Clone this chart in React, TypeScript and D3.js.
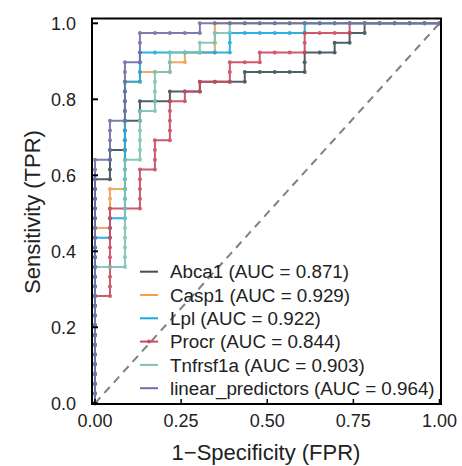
import React, { useRef, useEffect } from 'react';
import * as d3 from 'd3';

const nNeg = 23;
const nPos = 39;

// ROC steps: [false positives so far, true positives reached there]
const abca1Steps = [[0, 23], [1, 26], [2, 29], [3, 31], [5, 32], [7, 33], [10, 34], [14, 36], [16, 37], [17, 38], [18, 39]];
const casp1Steps = [[0, 18], [1, 22], [2, 33], [3, 34], [5, 35], [6, 36], [8, 39]];
const lplSteps = [[0, 17], [1, 19], [2, 33], [3, 36], [9, 38], [14, 39]];
const procrSteps = [[0, 11], [1, 20], [3, 24], [4, 27], [5, 31], [6, 32], [7, 33], [9, 35], [11, 36], [14, 38], [17, 39]];
const tnfrsf1aSteps = [[0, 14], [2, 25], [3, 30], [4, 34], [5, 36], [7, 37], [8, 38], [9, 39]];
const linearSteps = [[0, 25], [1, 29], [2, 35], [3, 38], [7, 39]];

const seriesNames = ['Abca1', 'Casp1', 'Lpl', 'Procr', 'Tnfrsf1a', 'linear_predictors'];
const aucValues = ['0.871', '0.929', '0.922', '0.844', '0.903', '0.964'];
const seriesSteps = [abca1Steps, casp1Steps, lplSteps, procrSteps, tnfrsf1aSteps, linearSteps];
const colors = ['#3e4f57', '#f0a04b', '#1ba7e0', '#c94a5e', '#7cc3b3', '#6e6fa6'];

const xTicks = [0, 0.25, 0.5, 0.75, 1];
const yTicks = [0, 0.2, 0.4, 0.6, 0.8, 1];

const W = 462;
const H = 466;
const font = '"Liberation Sans", Arial, sans-serif';

// walk the ranked samples: one point per sample
function rocPoints(steps: number[][]) {
  const pts: [number, number][] = [[0, 0]];
  let fp = 0;
  let tp = 0;
  steps.forEach(([f, t]) => {
    while (fp < f) { fp++; pts.push([fp / nNeg, tp / nPos]); }
    while (tp < t) { tp++; pts.push([fp / nNeg, tp / nPos]); }
  });
  while (fp < nNeg) { fp++; pts.push([fp / nNeg, tp / nPos]); }
  return pts;
}

function App() {
  const svgRef = useRef<SVGSVGElement>(null);

  useEffect(() => {
    const svg = d3.select(svgRef.current);
    svg.selectAll('*').remove();

    const x = d3.scaleLinear().domain([0, 1]).range([95, 439.5]);
    const y = d3.scaleLinear().domain([0, 1]).range([403.3, 23.3]);

    const frame = { left: 92, right: 441, top: 18.5, bottom: 404 };

    // diagonal reference
    svg.append('line')
      .attr('x1', x(0)).attr('y1', y(0))
      .attr('x2', x(1)).attr('y2', y(1))
      .attr('stroke', '#808080')
      .attr('stroke-width', 2)
      .attr('stroke-dasharray', '8,6');

    const line = d3.line<[number, number]>()
      .x(d => x(d[0]))
      .y(d => y(d[1]));

    seriesSteps.forEach((steps, i) => {
      const pts = rocPoints(steps);
      const g = svg.append('g').attr('opacity', 0.9);
      g.append('path')
        .attr('d', line(pts))
        .attr('fill', 'none')
        .attr('stroke', colors[i])
        .attr('stroke-width', 2);
      g.selectAll('circle')
        .data(pts)
        .join('circle')
        .attr('cx', d => x(d[0]))
        .attr('cy', d => y(d[1]))
        .attr('r', 2)
        .attr('fill', colors[i]);
    });

    // frame
    svg.append('rect')
      .attr('x', frame.left).attr('y', frame.top)
      .attr('width', frame.right - frame.left)
      .attr('height', frame.bottom - frame.top)
      .attr('fill', 'none')
      .attr('stroke', '#000')
      .attr('stroke-width', 2);

    // ticks (inside)
    svg.selectAll('.ytick')
      .data(yTicks)
      .join('line')
      .attr('class', 'ytick')
      .attr('x1', frame.left).attr('x2', frame.left + 6)
      .attr('y1', d => y(d)).attr('y2', d => y(d))
      .attr('stroke', '#000').attr('stroke-width', 2);
    svg.selectAll('.xtick')
      .data(xTicks)
      .join('line')
      .attr('class', 'xtick')
      .attr('x1', d => x(d)).attr('x2', d => x(d))
      .attr('y1', frame.bottom).attr('y2', frame.bottom - 5)
      .attr('stroke', '#000').attr('stroke-width', 1.5);

    svg.selectAll('.ylab')
      .data(yTicks)
      .join('text')
      .attr('class', 'ylab')
      .attr('x', 76)
      .attr('y', d => y(d) + 6.5)
      .attr('text-anchor', 'end')
      .attr('font-family', font)
      .attr('font-size', 18)
      .attr('fill', '#222')
      .text(d => d.toFixed(1));
    svg.selectAll('.xlab')
      .data(xTicks)
      .join('text')
      .attr('class', 'xlab')
      .attr('x', d => x(d))
      .attr('y', 427)
      .attr('text-anchor', 'middle')
      .attr('font-family', font)
      .attr('font-size', 18)
      .attr('fill', '#222')
      .text(d => d.toFixed(2));

    svg.append('text')
      .attr('x', 266)
      .attr('y', 460)
      .attr('text-anchor', 'middle')
      .attr('font-family', font)
      .attr('font-size', 22)
      .attr('fill', '#222')
      .text('1\u2212Specificity (FPR)');
    svg.append('text')
      .attr('transform', 'translate(40,212) rotate(-90)')
      .attr('text-anchor', 'middle')
      .attr('font-family', font)
      .attr('font-size', 22)
      .attr('fill', '#222')
      .text('Sensitivity (TPR)');

    // legend
    const legend = svg.append('g');
    seriesNames.forEach((name, i) => {
      const ly = 271.7 + i * 23.3;
      legend.append('line')
        .attr('x1', 140).attr('x2', 158)
        .attr('y1', ly).attr('y2', ly)
        .attr('stroke', colors[i])
        .attr('stroke-width', 2);
      if (name === 'Procr') {
        legend.append('circle')
          .attr('cx', 149).attr('cy', ly).attr('r', 2)
          .attr('fill', colors[i]);
      }
      legend.append('text')
        .attr('x', 170)
        .attr('y', ly + 6.6)
        .attr('font-family', font)
        .attr('font-size', 18.8)
        .attr('fill', '#222')
        .text(`${name} (AUC = ${aucValues[i]})`);
    });
  }, []);

  return (
    <svg
      ref={svgRef}
      width={W}
      height={H}
      style={{ position: 'absolute', left: 0, top: 0, background: '#fff' }}
    />
  );
}

export default App;
